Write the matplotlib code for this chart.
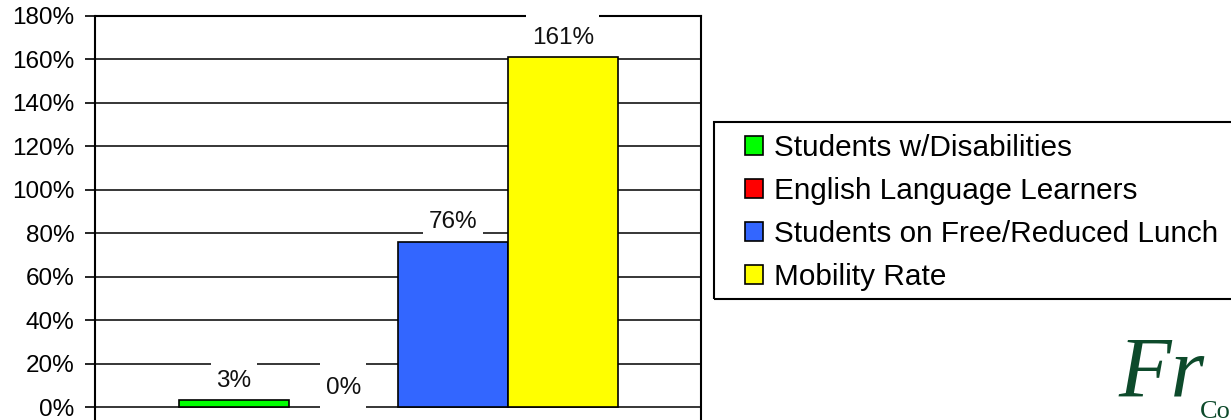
import numpy as np
import matplotlib
matplotlib.use('Agg')
import matplotlib.pyplot as plt
from matplotlib.patches import Patch, Rectangle
from matplotlib.ticker import FuncFormatter

matplotlib.rcParams['font.family'] = ['Liberation Sans', 'DejaVu Sans']

# data
series = ['Students w/Disabilities', 'English Language Learners',
          'Students on Free/Reduced Lunch', 'Mobility Rate']
values = [3, 0, 76, 161]
colors = ['#00FF00', '#FF0000', '#3366FF', '#FFFF00']
yticks = [0, 20, 40, 60, 80, 100, 120, 140, 160, 180]

W, H = 1231, 420
fig = plt.figure(figsize=(W / 100, H / 100), dpi=100)

# axes box in pixels (left, top, right) - bottom runs off the picture
ax = fig.add_axes([95.5 / W, 0, (701 - 95.5) / W, 1 - 15.7 / H])
ax.set_xlim(-0.5, 0.5)
ax.set_ylim(-(420 - 407) / ((407 - 15.7) / 180), 180)

bw = 0.1812
offsets = (np.arange(len(values)) - 1.5) * bw
# zero-height bars get no outline (nothing drawn, like the original)
edge_w = [1.2 if v > 0 else 0 for v in values]
bars = ax.bar(offsets, values, width=bw, color=colors, edgecolor='black',
              linewidth=edge_w, zorder=3)

# label boxes sit above the grid/spines but under the bars
for x, v in zip(offsets, values):
    ax.annotate('{0}%'.format(v), xy=(x, v), xytext=(0, 14),
                textcoords='offset points', ha='center', va='center',
                fontsize=17.5, color='#111111', zorder=2.7, annotation_clip=False,
                bbox=dict(boxstyle='square,pad=0.22', fc='white', ec='none',
                          mutation_aspect=2.6))

ax.set_yticks(yticks)
ax.yaxis.set_major_formatter(FuncFormatter(lambda y, pos: '{0:d}%'.format(int(y))))
ax.tick_params(axis='y', direction='out', length=7, width=1.2, pad=8,
               labelsize=17.5, colors='black')
ax.tick_params(axis='x', bottom=False, labelbottom=False)
ax.yaxis.grid(True, color='black', linewidth=1.1)
ax.set_axisbelow(True)
ax.spines['bottom'].set_visible(False)
for s in ['left', 'right', 'top']:
    ax.spines[s].set_linewidth(1.5)
    ax.spines[s].set_color('black')

# legend frame drawn by hand, legend entries without frame
fig.patches.append(Rectangle((714 / W, 1 - 299 / H), (W + 5 - 714) / W, (299 - 122) / H,
                             transform=fig.transFigure, fill=False,
                             edgecolor='black', linewidth=1.5))
handles = [Patch(facecolor=c, edgecolor='black', linewidth=1.2) for c in colors]
fig.legend(handles, series, loc='upper left',
           bbox_to_anchor=(745 / W, 1 - 134 / H), frameon=False,
           fontsize=21.4, handlelength=0.62, handleheight=0.6,
           handletextpad=0.34, labelspacing=0.5, borderpad=0, borderaxespad=0)

# logo fragment, bottom right
fig.text(1118 / W, 1 - 396 / H, 'Fr', fontsize=62, family='Liberation Serif',
         style='italic', color='#0d4a2b')
fig.text(1200 / W, 1 - 418 / H, 'Co', fontsize=19, family='Liberation Serif',
         color='#0d4a2b')

fig.savefig('out.png', dpi=100)
